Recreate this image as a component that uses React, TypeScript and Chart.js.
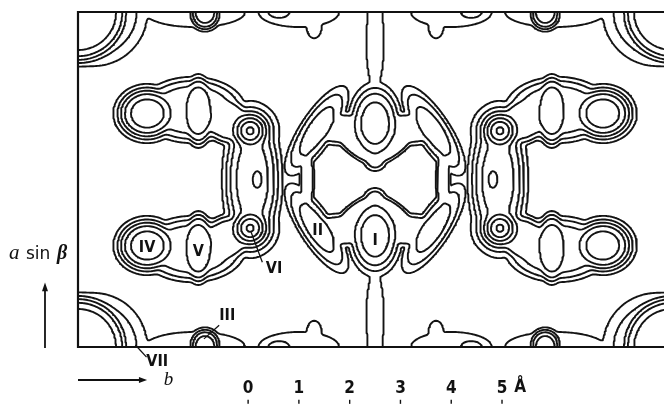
import React, { useEffect, useRef } from "react";
import { Chart, registerables } from "chart.js";
Chart.register(...registerables);

// ---- frame / cell (Å) ----
const X_VIS_MIN = -3.35;
const X_VIS_MAX = 8.19;
const CELL_X0 = -3.35;
const MIRROR_X = 2.5;
const MIRROR_Y = 3.3;
const CELL_W = 2 * (MIRROR_X - CELL_X0);
const CELL_H = 2 * MIRROR_Y;

// ---- contour levels ----
const LEVELS = [1, 2, 3, 4, 5, 6, 7];
const BLEND_K = 6;

// ---- density features of the asymmetric quarter (Å) ----
const PEAK_NAME = ["IV", "V", "VI", "armBody", "armLinkB", "colRidge", "colCentre", "II", "I", "IslopeL", "Itip", "ringBottom", "ringLeft", "neck", "III", "VII", "ridgeL", "ridgeM", "ridgeR", "bumpTip", "bumpInner"];
const PEAK_X = [-1.99, -0.98, 0.04, -1.1, -0.4, 0.08, 0.18, 1.35, 2.5, 2.12, 2.5, 1.85, 1.16, 2.5, -0.85, -3.35, -3.05, -1.05, 1.0, 1.3, 0.6];
const PEAK_Y = [2.0, 1.95, 2.34, 1.93, 2.15, 3.3, 3.3, 2.34, 2.19, 2.72, 2.9, 2.3, 3.3, 0.6, 0.06, 0.0, 0.0, 0.0, 0.0, 0.3, 0.0];
const PEAK_H = [5.46, 4.25, 7.2, 3.5, 3.5, 4.45, 5.3, 3.3, 4.4, 2.4, 2.5, 2.5, 2.6, 1.4, 4.3, 5.5, 2.3, 1.6, 1.6, 1.6, 2.1];
const PEAK_SA = [0.49, 0.285, 0.29, 0.9, 0.45, 0.456, 0.15, 0.83, 0.41, 0.45, 0.2, 0.7, 0.13, 0.19, 0.25, 0.92, 1.0, 1.0, 0.8, 0.15, 0.32];
const PEAK_SB = [0.43, 0.61, 0.29, 0.56, 0.4, 1.15, 0.28, 0.27, 0.62, 0.12, 0.2, 0.3, 0.6, 1.0, 0.25, 0.92, 1.0, 0.3, 0.3, 0.22, 0.18];
const PEAK_ROT = [0, 0, 0, 0, 25, 0, 0, -57, 0, 36, 0, 0, 0, 0, 0, 0, 0, 0, 0, 0, 0];
const PEAK_P = [2, 3, 1, 3, 3, 2, 1, 2, 2, 2, 2, 3, 3, 2, 2, 4, 4, 3, 3, 2, 2];

// ---- labels ----
const PEAK_LABEL = ["I", "II", "III", "IV", "V", "VI", "VII"];
const PEAK_LABEL_X = [2.5, 1.37, -0.41, -1.99, -0.98, 0.51, -1.79];
const PEAK_LABEL_Y = [2.11, 2.3, 0.63, 1.98, 1.89, 1.56, -0.28];
const LEADER_X1 = [0.06, -0.57, -2.22];
const LEADER_Y1 = [2.26, 0.43, 0.04];
const LEADER_X2 = [0.28, -0.87, -2.0];
const LEADER_Y2 = [1.67, 0.16, -0.2];

const SCALE_TICKS = [0, 1, 2, 3, 4, 5];
const SCALE_UNIT = "Å";

type Img = { x: number; y: number; h: number; sa: number; sb: number; rot: number; p: number };

function peakImages(): Img[] {
  const out: Img[] = [];
  const seen = new Set<string>();
  for (let k = 0; k < PEAK_X.length; k++) {
    for (const mx of [false, true]) {
      const bx = mx ? 2 * MIRROR_X - PEAK_X[k] : PEAK_X[k];
      for (const tx of [-CELL_W, 0, CELL_W]) {
        const xx = bx + tx;
        for (const my of [false, true]) {
          const by = my ? 2 * MIRROR_Y - PEAK_Y[k] : PEAK_Y[k];
          for (const ty of [-CELL_H, 0, CELL_H]) {
            const yy = by + ty;
            const key = k + ":" + xx.toFixed(4) + "," + yy.toFixed(4);
            if (seen.has(key)) continue;
            seen.add(key);
            const r = 3.5 * Math.max(PEAK_SA[k], PEAK_SB[k]);
            if (xx < CELL_X0 - r || xx > CELL_X0 + CELL_W + r || yy < -r || yy > CELL_H + r) continue;
            const sgn = (mx ? -1 : 1) * (my ? -1 : 1);
            out.push({ x: xx, y: yy, h: PEAK_H[k], sa: PEAK_SA[k], sb: PEAK_SB[k], rot: (sgn * PEAK_ROT[k] * Math.PI) / 180, p: PEAK_P[k] });
          }
        }
      }
    }
  }
  return out;
}

function computeField() {
  const step = 0.03;
  const x0 = CELL_X0;
  const x1 = CELL_X0 + CELL_W;
  const nx = Math.round((x1 - x0) / step) + 1;
  const ny = Math.round(CELL_H / step) + 1;
  const dx = (x1 - x0) / (nx - 1);
  const dy = CELL_H / (ny - 1);
  const acc = new Float64Array(nx * ny);
  const K = BLEND_K;
  for (const q of peakImages()) {
    const r = 3.5 * Math.max(q.sa, q.sb);
    const i0 = Math.max(0, Math.floor((q.x - r - x0) / dx));
    const i1 = Math.min(nx - 1, Math.ceil((q.x + r - x0) / dx));
    const j0 = Math.max(0, Math.floor((q.y - r) / dy));
    const j1 = Math.min(ny - 1, Math.ceil((q.y + r) / dy));
    const c = Math.cos(q.rot), s = Math.sin(q.rot);
    const ia = 1 / (q.sa * q.sa), ib = 1 / (q.sb * q.sb);
    const hK = Math.pow(q.h, K);
    for (let j = j0; j <= j1; j++) {
      const ddy = j * dy - q.y;
      for (let i = i0; i <= i1; i++) {
        const ddx = x0 + i * dx - q.x;
        const u = ddx * c + ddy * s;
        const v = -ddx * s + ddy * c;
        const rho2 = u * u * ia + v * v * ib;
        acc[j * nx + i] += hK * Math.exp(-0.5 * K * Math.pow(rho2, q.p));
      }
    }
  }
  const f = new Float64Array(nx * ny);
  for (let n = 0; n < f.length; n++) f[n] = Math.pow(acc[n], 1 / K);
  return { f, nx, ny, dx, dy, x0 };
}

function contourLines(F: ReturnType<typeof computeField>, L: number) {
  const { f, nx, ny, dx, dy, x0 } = F;
  const NH = nx * ny;
  const pts = new Map<number, [number, number]>();
  const adj = new Map<number, number[]>();
  const hE = (i: number, j: number) => {
    const id = j * nx + i;
    if (!pts.has(id)) {
      const a = f[j * nx + i], b = f[j * nx + i + 1];
      const t = (L - a) / (b - a);
      pts.set(id, [x0 + (i + t) * dx, j * dy]);
    }
    return id;
  };
  const vE = (i: number, j: number) => {
    const id = NH + j * nx + i;
    if (!pts.has(id)) {
      const a = f[j * nx + i], b = f[(j + 1) * nx + i];
      const t = (L - a) / (b - a);
      pts.set(id, [x0 + i * dx, (j + t) * dy]);
    }
    return id;
  };
  const link = (p: number, q: number) => {
    if (!adj.has(p)) adj.set(p, []);
    if (!adj.has(q)) adj.set(q, []);
    adj.get(p)!.push(q);
    adj.get(q)!.push(p);
  };
  for (let j = 0; j < ny - 1; j++) {
    for (let i = 0; i < nx - 1; i++) {
      const a = f[j * nx + i], b = f[j * nx + i + 1], c = f[(j + 1) * nx + i + 1], d = f[(j + 1) * nx + i];
      const cs = (a >= L ? 1 : 0) | (b >= L ? 2 : 0) | (c >= L ? 4 : 0) | (d >= L ? 8 : 0);
      if (cs === 0 || cs === 15) continue;
      switch (cs) {
        case 1: case 14: link(vE(i, j), hE(i, j)); break;
        case 2: case 13: link(hE(i, j), vE(i + 1, j)); break;
        case 3: case 12: link(vE(i, j), vE(i + 1, j)); break;
        case 4: case 11: link(vE(i + 1, j), hE(i, j + 1)); break;
        case 6: case 9: link(hE(i, j), hE(i, j + 1)); break;
        case 7: case 8: link(vE(i, j), hE(i, j + 1)); break;
        case 5: {
          if ((a + b + c + d) / 4 >= L) { link(hE(i, j), vE(i + 1, j)); link(vE(i, j), hE(i, j + 1)); }
          else { link(vE(i, j), hE(i, j)); link(vE(i + 1, j), hE(i, j + 1)); }
          break;
        }
        case 10: {
          if ((a + b + c + d) / 4 >= L) { link(vE(i, j), hE(i, j)); link(vE(i + 1, j), hE(i, j + 1)); }
          else { link(hE(i, j), vE(i + 1, j)); link(vE(i, j), hE(i, j + 1)); }
          break;
        }
      }
    }
  }
  const used = new Set<number>();
  const lines: [number, number][][] = [];
  const trace = (start: number) => {
    const line = [start];
    used.add(start);
    let prev = -1, cur = start;
    for (;;) {
      const nb = adj.get(cur)!;
      let nxt = -1;
      for (const n of nb) if (n !== prev && !used.has(n)) { nxt = n; break; }
      if (nxt < 0) {
        if (line.length > 2 && nb.includes(start)) line.push(start);
        break;
      }
      line.push(nxt);
      used.add(nxt);
      prev = cur;
      cur = nxt;
    }
    return line.map((id) => pts.get(id)!);
  };
  for (const [id, nb] of adj) if (nb.length === 1 && !used.has(id)) lines.push(trace(id));
  for (const [id] of adj) if (!used.has(id)) lines.push(trace(id));
  return lines;
}

const framePlugin = {
  id: "frame",
  afterDatasetsDraw(chart: any) {
    const { ctx, chartArea: a } = chart;
    ctx.save();
    ctx.strokeStyle = "#111";
    ctx.lineWidth = 2.2;
    ctx.beginPath();
    ctx.moveTo(a.right + 2, a.top);
    ctx.lineTo(a.left, a.top);
    ctx.lineTo(a.left, a.bottom);
    ctx.lineTo(a.right + 2, a.bottom);
    ctx.stroke();
    ctx.restore();
  },
};

const labelPlugin = {
  id: "labels",
  afterDraw(chart: any) {
    const { ctx } = chart;
    const sx = chart.scales.x, sy = chart.scales.y;
    const X = (v: number) => sx.getPixelForValue(v);
    const Y = (v: number) => sy.getPixelForValue(v);
    ctx.save();
    ctx.fillStyle = "#111";
    ctx.strokeStyle = "#111";
    ctx.textAlign = "center";
    ctx.textBaseline = "middle";
    ctx.font = 'bold 16px "Liberation Sans Narrow", "DejaVu Sans Condensed", sans-serif';
    for (let i = 0; i < PEAK_LABEL.length; i++) {
      ctx.fillText(PEAK_LABEL[i], X(PEAK_LABEL_X[i]), Y(PEAK_LABEL_Y[i]) + 1);
    }
    ctx.lineWidth = 1.3;
    for (let i = 0; i < LEADER_X1.length; i++) {
      ctx.beginPath();
      ctx.moveTo(X(LEADER_X1[i]), Y(LEADER_Y1[i]));
      ctx.lineTo(X(LEADER_X2[i]), Y(LEADER_Y2[i]));
      ctx.stroke();
    }
    // scale bar
    ctx.font = 'bold 17px "DejaVu Sans Condensed", "DejaVu Sans", sans-serif';
    const ty = Y(-0.81);
    for (const t of SCALE_TICKS) {
      const px = X(t);
      ctx.fillText(String(t), px, ty);
      ctx.lineWidth = 1.4;
      ctx.beginPath();
      ctx.moveTo(px, Y(-1.04));
      ctx.lineTo(px, Y(-1.12));
      ctx.stroke();
    }
    ctx.fillText(SCALE_UNIT, X(5.36), ty - 1);
    // a sin β
    ctx.textAlign = "left";
    ctx.textBaseline = "alphabetic";
    const base = Y(1.73);
    ctx.font = 'italic 21px "Liberation Serif", serif';
    ctx.fillText("a", 9, base);
    ctx.font = '17px "DejaVu Sans", sans-serif';
    ctx.fillText("sin", 26, base);
    ctx.font = 'italic bold 20px "Liberation Serif", serif';
    ctx.fillText("β", 57, base);
    // up arrow
    ctx.lineWidth = 1.8;
    const ax = X(-4.0);
    ctx.beginPath();
    ctx.moveTo(ax, Y(-0.02));
    ctx.lineTo(ax, Y(1.2));
    ctx.stroke();
    ctx.beginPath();
    ctx.moveTo(ax, Y(1.27));
    ctx.lineTo(ax - 3, Y(1.1));
    ctx.lineTo(ax + 3, Y(1.1));
    ctx.closePath();
    ctx.fill();
    // right arrow (b)
    const by = Y(-0.65);
    ctx.beginPath();
    ctx.moveTo(X(-3.35), by);
    ctx.lineTo(X(-2.08), by);
    ctx.stroke();
    ctx.beginPath();
    ctx.moveTo(X(-1.99), by);
    ctx.lineTo(X(-2.15), by - 3);
    ctx.lineTo(X(-2.15), by + 3);
    ctx.closePath();
    ctx.fill();
    ctx.font = 'italic 19px "Liberation Serif", serif';
    ctx.textAlign = "center";
    ctx.fillText("b", X(-1.57), Y(-0.74));
    ctx.restore();
  },
};

export default function App() {
  const ref = useRef<HTMLCanvasElement | null>(null);
  useEffect(() => {
    const F = computeField();
    const datasets = LEVELS.map((L) => {
      const data: { x: number; y: number | null }[] = [];
      for (const line of contourLines(F, L)) {
        for (const [x, y] of line) data.push({ x, y });
        data.push({ x: line[line.length - 1][0], y: null });
      }
      return {
        label: "level " + L,
        data,
        showLine: true,
        spanGaps: false,
        borderColor: "#141414",
        borderWidth: 1.9,
        pointRadius: 0,
        pointHoverRadius: 0,
        tension: 0,
        borderJoinStyle: "round" as const,
        borderCapStyle: "round" as const,
      };
    });
    const chart = new Chart(ref.current!, {
      type: "scatter",
      data: { datasets: datasets as any },
      options: {
        responsive: false,
        animation: false,
        events: [],
        layout: { padding: { left: 78, top: 12, right: 0, bottom: 57 } },
        scales: {
          x: { type: "linear", min: X_VIS_MIN, max: X_VIS_MAX, display: false },
          y: { type: "linear", min: 0, max: CELL_H, display: false },
        },
        plugins: { legend: { display: false }, tooltip: { enabled: false } },
      },
      plugins: [framePlugin, labelPlugin],
    });
    return () => chart.destroy();
  }, []);
  return (
    <div style={{ position: "fixed", left: 0, top: 0, width: 664, height: 404, background: "#fff" }}>
      <canvas ref={ref} width={664} height={404} style={{ display: "block", width: 664, height: 404 }} />
    </div>
  );
}
